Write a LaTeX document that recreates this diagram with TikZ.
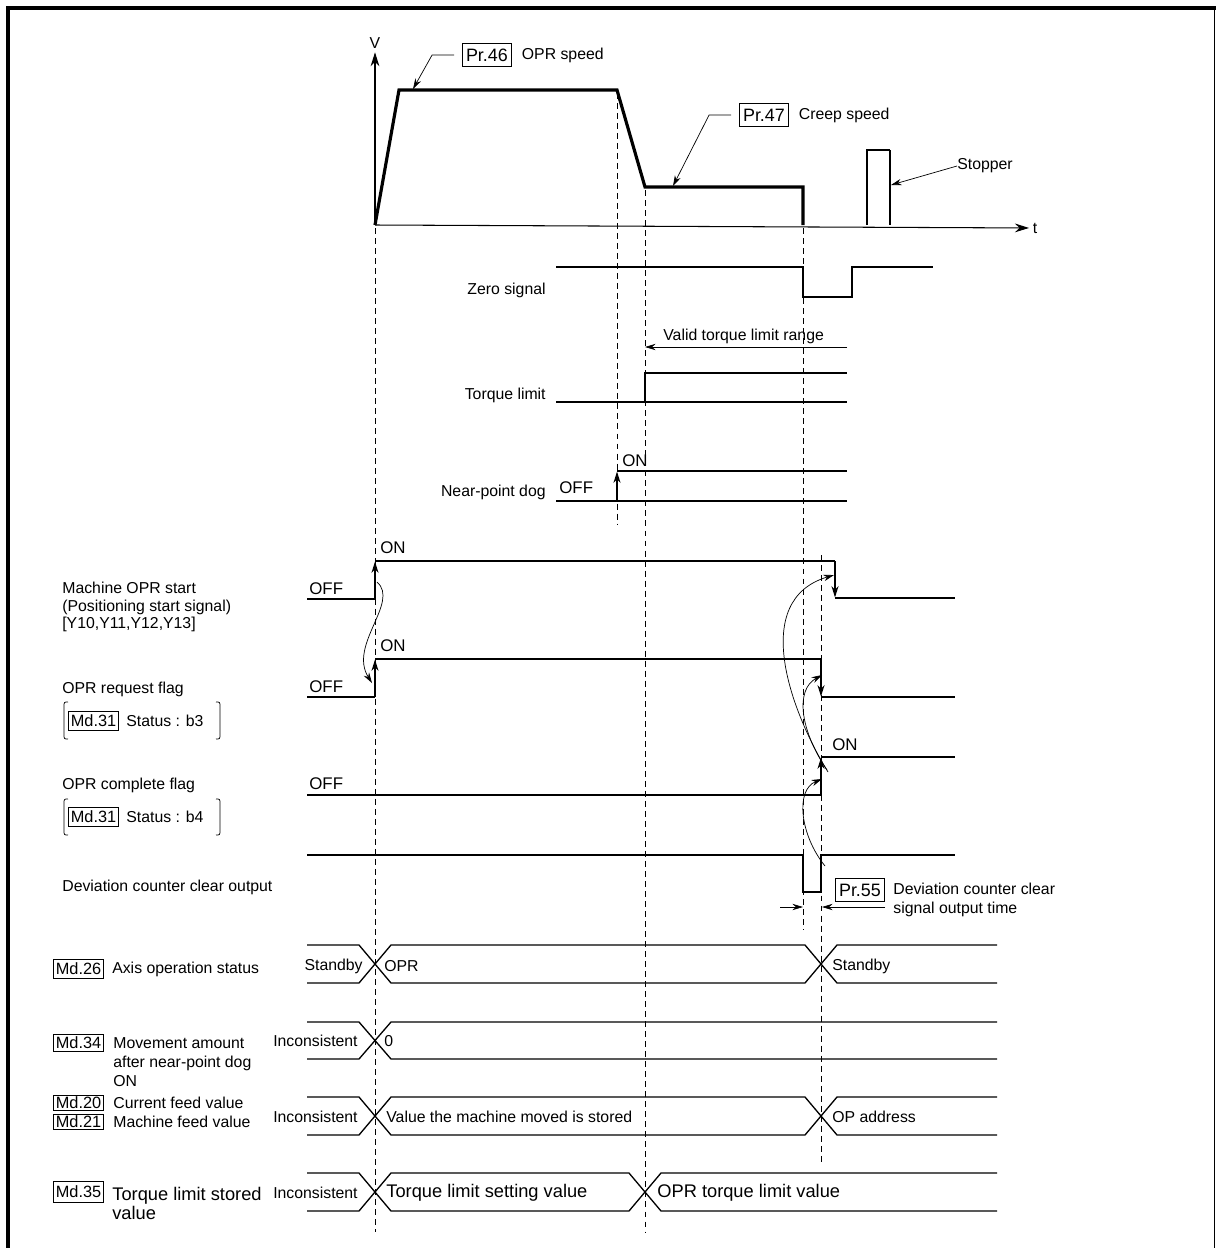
\documentclass[tikz,border=0pt]{standalone}
\usepackage{fontspec}
\setmainfont{Liberation Sans}
\usetikzlibrary{arrows.meta,positioning}

\begin{document}
\begin{tikzpicture}[x=0.02cm,y=-0.02cm,
    txt/.style={font=\fontsize{9}{10.5}\selectfont, inner sep=0pt},
    big/.style={font=\fontsize{10.4}{10.8}\selectfont, inner sep=0pt},
    state/.style={font=\fontsize{9.6}{11}\selectfont, inner sep=0pt},
    pbox/.style={draw, line width=0.6pt, font=\fontsize{10.2}{12}\selectfont, inner xsep=2pt, inner ysep=0pt, minimum height=13.5pt},
    mdbox/.style={draw, line width=0.6pt, font=\fontsize{9.3}{11}\selectfont, inner xsep=1.3pt, inner ysep=0pt, minimum height=10pt},
    axis/.style={line width=0.6pt, -{Stealth[length=8pt,width=5pt]}},
    speed/.style={line width=1.8pt, line join=miter},
    sig/.style={line width=0.9pt},
    tip/.style={-{Stealth[length=6.5pt,width=4pt]}},
    lead/.style={line width=0.4pt, -{Stealth[length=6pt,width=3.6pt]}},
    guide/.style={line width=0.5pt, dash pattern=on 3.4pt off 2.3pt},
    bus/.style={line width=0.75pt},
]
    \useasboundingbox (0,0) rectangle (1216,1248);
    \draw[line width=2.3pt] (8,1248) -- (8,8) -- (1216,8);
    \draw[line width=1.1pt] (1214.5,8) -- (1214.5,1248);
    % speed chart
    \coordinate (o) at(375,225);
    \node[txt, inner sep=2pt] at(375,43)(vlab){V};
    \node[txt, inner sep=2pt, anchor=west] at(1029,228)(tlab){t};
    \draw[axis] (o) -- (vlab);
    \draw[axis] (o) -- (tlab);
    \draw[speed] (o) -- (399,90) -- (617,90) -- (645,187) -- (803,187) -- (803,225);
    \node[pbox, anchor=west] at(462,55)(pr46){Pr.46};
    \node[txt, right=5.5pt of pr46](oprspd){OPR speed};
    \coordinate (v46) at(413,89);
    \draw[lead] ([xshift=-4.5pt]pr46.west) -- ++(-22,0) -- (v46);
    \node[pbox, anchor=west] at(739,115)(pr47){Pr.47};
    \node[txt, right=5.5pt of pr47](creep){Creep speed};
    \coordinate (v47) at(673,186);
    \draw[lead] ([xshift=-4.5pt]pr47.west) -- ++(-22,0) -- (v47);
    \draw[line width=0.6pt] (867,225) -- (867,150) -- (890,150);
    \draw[line width=1.3pt] (890,150) -- (890,225);
    \node[txt, anchor=west] at(957,166)(stoplab){Stopper};
    \coordinate (stop) at(891,185);
    \draw[lead] (stoplab.west) -- (stop);
    %
    \draw[guide] (375,228) -- (375,1232);
    \draw[guide] (617,93) -- (617,525);
    \draw[guide] (645,190) -- (645,1232);
    \draw[guide] (803,228) -- (803,930);
    \draw[guide] (821,555) -- (821,1162);
    % zero signal, torque limit, near-point dog
    \node[txt, anchor=east] at(546,290)(zero){Zero signal};
    \draw[sig] (556,267) -- (803,267) -- (803,297) -- (852,297) -- (852,267) -- (933,267);
    \node[txt, anchor=west] at(663,336)(valid){Valid torque limit range};
    \coordinate (vr) at(847,347);
    \coordinate (vl) at(645,347);
    \draw[lead] (vr) -- (vl);
    \node[txt, anchor=east] at(546,395)(torque){Torque limit};
    \draw[sig] (556,402) -- (645,402) -- (645,373) -- (847,373);
    \draw[sig] (645,402) -- (847,402);
    \node[txt, anchor=east] at(546,492)(dog){Near-point dog};
    \node[state, anchor=west] at(559,488)(dogoff){OFF};
    \node[state, anchor=west] at(622,461)(dogon){ON};
    \draw[sig] (556,501) -- (847,501);
    \draw[sig, tip] (617,501) -- (617,471.5);
    \draw[line width=1.3pt] (617,471) -- (847,471);
    % machine OPR start
    \node[txt, anchor=west, align=left, font=\fontsize{9}{9.9}\selectfont] at(62,607)(start){Machine OPR start\\(Positioning start signal)\\{}[Y10,Y11,Y12,Y13]};
    \node[state, anchor=west] at(309,589)(startoff){OFF};
    \node[state, anchor=west] at(380,548)(starton){ON};
    \draw[sig] (307,599) -- (375,599);
    \draw[sig, tip] (375,599) -- (375,561.5);
    \draw[sig] (375,561) -- (835,561);
    \draw[sig, tip] (835,561) -- (835,597.5);
    \draw[sig] (835,598) -- (955,598);
    % OPR request flag
    \node[txt, anchor=west] at(62,689)(req){OPR request flag};
    \node[mdbox, anchor=west, minimum height=10.5pt] at(68,721)(md31a){Md.31};
    \node[txt, right=4pt of md31a](b3){Status : b3};
    \draw[line width=0.4pt] (68,702) .. controls (64,702) .. (64,707) -- (64,734) .. controls (64,739) .. (68,739);
    \draw[line width=0.4pt] (216,702) .. controls (220,702) .. (220,707) -- (220,734) .. controls (220,739) .. (216,739);
    \node[state, anchor=west] at(309,687)(reqoff){OFF};
    \node[state, anchor=west] at(380,646)(reqon){ON};
    \draw[sig] (307,697) -- (375,697);
    \draw[sig, tip] (375,697) -- (375,659.5);
    \draw[sig] (375,659) -- (821,659);
    \draw[sig, tip] (821,659) -- (821,696.5);
    \draw[sig] (821,697) -- (955,697);
    % OPR complete flag
    \node[txt, anchor=west] at(62,785)(cmp){OPR complete flag};
    \node[mdbox, anchor=west, minimum height=10.5pt] at(68,817)(md31b){Md.31};
    \node[txt, right=4pt of md31b](b4){Status : b4};
    \draw[line width=0.4pt] (68,799) .. controls (64,799) .. (64,804) -- (64,830) .. controls (64,835) .. (68,835);
    \draw[line width=0.4pt] (216,799) .. controls (220,799) .. (220,804) -- (220,830) .. controls (220,835) .. (216,835);
    \node[state, anchor=west] at(309,784)(cmpoff){OFF};
    \node[state, anchor=west] at(832,745)(cmpon){ON};
    \draw[sig] (307,795) -- (821,795);
    \draw[sig, tip] (821,795) -- (821,757.5);
    \draw[sig] (821,757) -- (955,757);
    % deviation counter clear
    \node[txt, anchor=west] at(62,887)(dev){Deviation counter clear output};
    \draw[sig] (307,855) -- (803,855) -- (803,892) -- (821,892) -- (821,855) -- (955,855);
    \node[pbox, anchor=west] at(835,890)(pr55){Pr.55};
    \node[txt, anchor=north west, align=left, font=\fontsize{9}{10.6}\selectfont] at(893,883)(pr55t){Deviation counter clear\\signal output time};
    \coordinate (dl) at(780,907);
    \coordinate (dr) at(885,907);
    \draw[lead] (dl) -- (803,907);
    \draw[lead] (dr) -- (822,907);
    % timing curves
    \draw[lead] (377,582) .. controls (400,602) and (348,645) .. (372,683);
    \draw[lead] (828,772) .. controls (790,710) and (750,600) .. (834,575);
    \draw[lead] (827,770) .. controls (800,730) and (795,690) .. (822,675);
    \draw[lead] (825,866) .. controls (800,835) and (795,790) .. (822,779);
    % monitor rows
    \node[mdbox, anchor=west, minimum height=11.3pt] at(53,969)(md26){Md.26};
    \node[txt, right=4.5pt of md26](axst){Axis operation status};
    \draw[bus] (307,945) -- (359,945) -- (391,983) -- (805,983) -- (837,945) -- (997,945);
    \draw[bus] (307,983) -- (359,983) -- (391,945) -- (805,945) -- (837,983) -- (997,983);
    \node[txt, anchor=east] at(363,966)(stb1){Standby};
    \node[txt, anchor=west] at(384,966)(oprst){OPR};
    \node[txt, anchor=west] at(832,966)(stb2){Standby};
    %
    \node[mdbox, anchor=west, minimum height=9.6pt] at(53,1043)(md34){Md.34};
    \node[txt, anchor=west, align=left, font=\fontsize{9}{10.8}\selectfont] at(113,1062)(mv){Movement amount\\after near-point dog\\ON};
    \draw[bus] (307,1022) -- (359,1022) -- (391,1059) -- (997,1059);
    \draw[bus] (307,1059) -- (359,1059) -- (391,1022) -- (997,1022);
    \node[txt, anchor=east] at(358,1041)(inc1){Inconsistent};
    \node[txt, anchor=west] at(384,1041)(zero34){0};
    %
    \node[mdbox, anchor=west, minimum height=8.8pt] at(53,1103)(md20){Md.20};
    \node[txt, anchor=west] at(113,1103)(cur){Current feed value};
    \node[mdbox, anchor=west, minimum height=8.8pt] at(53,1122)(md21){Md.21};
    \node[txt, anchor=west] at(113,1122)(mach){Machine feed value};
    \draw[bus] (307,1097) -- (359,1097) -- (391,1135) -- (805,1135) -- (837,1097) -- (997,1097);
    \draw[bus] (307,1135) -- (359,1135) -- (391,1097) -- (805,1097) -- (837,1135) -- (997,1135);
    \node[txt, anchor=east] at(358,1117)(inc2){Inconsistent};
    \node[txt, anchor=west] at(386,1117)(moved){Value the machine moved is stored};
    \node[txt, anchor=west] at(832,1117)(opad){OP address};
    %
    \node[mdbox, anchor=west, minimum height=12.4pt] at(53,1192)(md35){Md.35};
    \node[big, anchor=west, align=left] at(112,1203.5)(tqst){Torque limit stored\\value};
    \draw[bus] (307,1173) -- (359,1173) -- (391,1211) -- (629,1211) -- (661,1173) -- (997,1173);
    \draw[bus] (307,1211) -- (359,1211) -- (391,1173) -- (629,1173) -- (661,1211) -- (997,1211);
    \node[txt, anchor=east] at(358,1193)(inc3){Inconsistent};
    \node[big, anchor=west] at(386,1193)(tqset){Torque limit setting value};
    \node[big, anchor=west] at(657,1193)(tqopr){OPR torque limit value};
\end{tikzpicture}
\end{document}
